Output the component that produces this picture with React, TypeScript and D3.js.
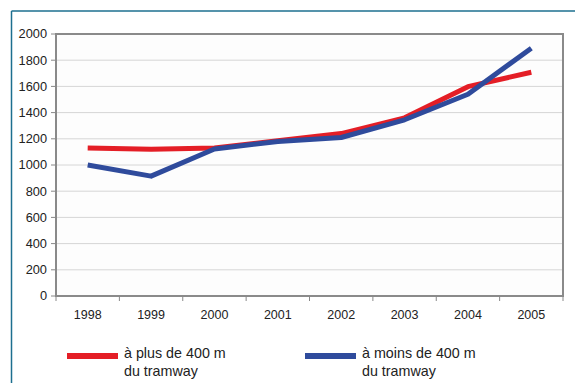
import React from "react";
import * as d3 from "d3";

const years = ["1998", "1999", "2000", "2001", "2002", "2003", "2004", "2005"];
const plusDe400 = [1130, 1120, 1130, 1185, 1240, 1360, 1598, 1708];
const moinsDe400 = [1000, 915, 1122, 1180, 1210, 1345, 1540, 1892];
const yTicks = [0, 200, 400, 600, 800, 1000, 1200, 1400, 1600, 1800, 2000];
const legendLabels = [["à plus de 400 m", "du tramway"], ["à moins de 400 m", "du tramway"]];

const RED = "#e41e26";
const BLUE = "#2f4b9c";

export default function App() {
  const W = 575, H = 383;
  const left = 56, right = 563, top = 34, bottom = 296;
  const x = d3.scaleBand().domain(years).range([left, right]);
  const y = d3.scaleLinear().domain([0, 2000]).range([bottom, top]);
  const line = d3
    .line<number>()
    .x((_, i) => (x(years[i]) as number) + x.bandwidth() / 2)
    .y((d) => y(d));
  const font = "'Liberation Sans', Arial, sans-serif";
  const series = [
    { vals: plusDe400, color: RED },
    { vals: moinsDe400, color: BLUE },
  ];
  const legendX = [67, 305];
  return (
    <svg
      width={W}
      height={H}
      style={{ position: "absolute", left: 0, top: 0, background: "#fff" }}
    >
      {/* outer frame */}
      <line x1={11.5} y1={11} x2={W} y2={11} stroke="#1d6f8f" strokeWidth={1.5} />
      <line x1={11.5} y1={11} x2={11.5} y2={H} stroke="#1d6f8f" strokeWidth={1.5} />
      <rect x={left} y={top} width={right - left} height={bottom - top} fill="#fdfdfd" />
      {yTicks.map((t) => (
        <g key={t}>
          {t > 0 && t < 2000 && (
            <line x1={left} x2={right} y1={y(t)} y2={y(t)} stroke="#d6d6d6" strokeWidth={1} />
          )}
          <line x1={left - 5} x2={left} y1={y(t)} y2={y(t)} stroke="#888" strokeWidth={1} />
          <text
            x={left - 9}
            y={y(t)}
            dy="0.35em"
            textAnchor="end"
            fontFamily={font}
            fontSize={12.8}
            fill="#222"
          >
            {t}
          </text>
        </g>
      ))}
      <rect
        x={left}
        y={top}
        width={right - left}
        height={bottom - top}
        fill="none"
        stroke="#8a8a8a"
        strokeWidth={2}
      />
      {years.map((yr) => (
        <g key={yr}>
          <line
            x1={x(yr) as number}
            x2={x(yr) as number}
            y1={bottom}
            y2={bottom + 5}
            stroke="#888"
          />
          <text
            x={(x(yr) as number) + x.bandwidth() / 2}
            y={bottom + 23}
            textAnchor="middle"
            fontFamily={font}
            fontSize={12.5}
            fill="#222"
          >
            {yr}
          </text>
        </g>
      ))}
      <line x1={right} x2={right} y1={bottom} y2={bottom + 5} stroke="#888" />
      {series.map((s, i) => (
        <path
          key={i}
          d={line(s.vals) as string}
          fill="none"
          stroke={s.color}
          strokeWidth={5}
          strokeLinejoin="round"
        />
      ))}
      {series.map((s, i) => (
        <g key={"lg" + i}>
          <line
            x1={legendX[i]}
            x2={legendX[i] + 51}
            y1={356}
            y2={356}
            stroke={s.color}
            strokeWidth={6}
          />
          <text x={legendX[i] + 57} y={358} fontFamily={font} fontSize={14.3} fill="#222">
            {legendLabels[i][0]}
          </text>
          <text x={legendX[i] + 57} y={376} fontFamily={font} fontSize={14.3} fill="#222">
            {legendLabels[i][1]}
          </text>
        </g>
      ))}
    </svg>
  );
}
